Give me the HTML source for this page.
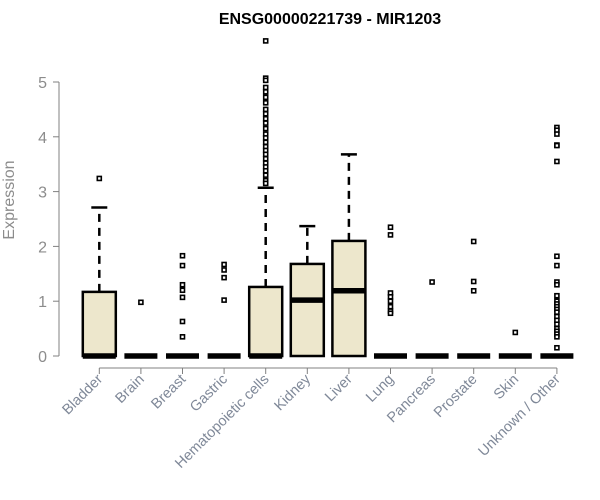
<!DOCTYPE html>
<html><head><meta charset="utf-8"><style>
body{margin:0;background:#fff}
svg{display:block;font-family:"Liberation Sans",Arial,sans-serif}
</style></head><body>
<svg id="c" width="600" height="500" viewBox="0 0 600 500">
<text x="330" y="24" text-anchor="middle" font-weight="bold" font-size="16" fill="#000">ENSG00000221739 - MIR1203</text>
<text transform="translate(14,200) rotate(-90)" text-anchor="middle" font-size="16" fill="#8c8c8c">Expression</text>
<g id="plot"></g>
</svg>
<script>
const categories=["Bladder","Brain","Breast","Gastric","Hematopoietic cells","Kidney","Liver","Lung","Pancreas","Prostate","Skin","Unknown / Other"];
const q1=[0,0,0,0,0,0,0,0,0,0,0,0];
const medians=[0,0,0,0,0,1.02,1.19,0,0,0,0,0];
const q3=[1.17,0,0,0,1.26,1.68,2.10,0,0,0,0,0];
const whiskerHigh=[2.71,0,0,0,3.07,2.37,3.68,0,0,0,0,0];
const outliers=[[3.24],[0.98],[1.83,1.65,1.3,1.2,1.07,0.63,0.35],[1.67,1.57,1.43,1.02],
[5.75,5.07,5.03,4.9,4.82,4.72,4.62,4.5,4.42,4.33,4.25,4.15,4.05,3.98,3.9,3.82,3.75,3.68,3.6,3.52,3.45,3.38,3.3,3.2,3.15],
[],[],[2.35,2.21,1.15,1.08,1.0,0.9,0.82,0.78],[1.35],[2.09,1.36,1.19],[0.43],
[4.17,4.12,4.05,3.85,3.84,3.55,1.82,1.65,1.35,1.3,1.1,1.0,0.95,0.9,0.85,0.8,0.72,0.65,0.58,0.5,0.45,0.4,0.35,0.15]];
const yTicks=[0,1,2,3,4,5];
const NS="http://www.w3.org/2000/svg";
const g=document.getElementById("plot");
const y=v=>356-v*54.8;
const x=i=>99.3+i*41.6;
const hw=16.5;
function mk(t,a){const e=document.createElementNS(NS,t);for(const k in a)e.setAttribute(k,a[k]);g.appendChild(e);return e;}
let e=mk("line",{x1:59,x2:59,y1:y(0),y2:y(5),stroke:"#808080","stroke-width":1});


yTicks.forEach(t=>{
 let l=mk("line",{x1:53,x2:59,y1:y(t),y2:y(t),stroke:"#808080"});
 
 
 let tx=mk("text",{x:47,y:y(t)+6,"text-anchor":"end","font-size":16,fill:"#8c8c8c"});tx.textContent=t;
 
 
});
e=mk("line",{x1:x(0),x2:x(11),y1:368,y2:368,stroke:"#808080"});


categories.forEach((c,i)=>{
 const cx=x(i);
 let t=mk("line",{x1:cx,x2:cx,y1:368,y2:374,stroke:"#808080"});
 
 
 let lb=mk("text",{transform:`translate(${cx+4},${380}) rotate(-45)`,"text-anchor":"end","font-size":14.5,fill:"#7f8898"});lb.textContent=c;
 
 
 if(whiskerHigh[i]>q3[i]){
  let w=mk("line",{x1:cx,x2:cx,y1:y(q3[i]),y2:y(whiskerHigh[i]),stroke:"#000","stroke-width":2.5,"stroke-dasharray":"8,6"});
  
  
  let cap=mk("line",{x1:cx-8,x2:cx+8,y1:y(whiskerHigh[i]),y2:y(whiskerHigh[i]),stroke:"#000","stroke-width":2.5});
  
  
 }
 if(q3[i]>q1[i]){
  let b=mk("rect",{x:cx-hw,y:y(q3[i]),width:hw*2,height:y(q1[i])-y(q3[i]),fill:"#ede7cc",stroke:"#000","stroke-width":2.5});
  
  
 }
 let m=mk("line",{x1:cx-hw,x2:cx+hw,y1:y(medians[i]),y2:y(medians[i]),stroke:"#000","stroke-width":5.5});
 
 
 outliers[i].forEach(v=>{
  let o=mk("rect",{x:cx-2,y:y(v)-2,width:4,height:4,fill:"#fff",stroke:"#000","stroke-width":1.6});
  
  
 });
});
</script>
</body></html>
